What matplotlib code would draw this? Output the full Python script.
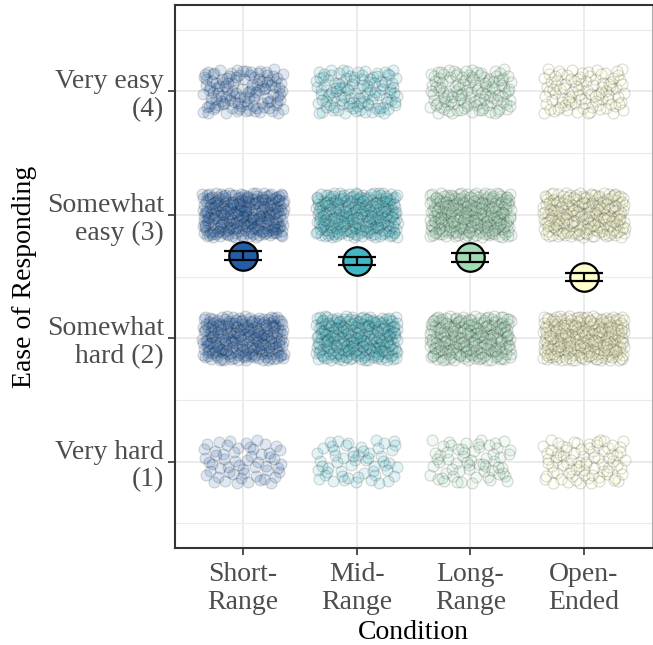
import numpy as np
import matplotlib
matplotlib.use("Agg")
import matplotlib.pyplot as plt
from matplotlib.ticker import FixedLocator

plt.rcParams['font.family'] = ['Liberation Serif', 'DejaVu Serif']

# data: number of responses per level (1..4) in each condition
conditions = ["Short-\nRange", "Mid-\nRange", "Long-\nRange", "Open-\nEnded"]
levels = [1, 2, 3, 4]
level_labels = ["Very hard\n(1)", "Somewhat\nhard (2)", "Somewhat\neasy (3)", "Very easy\n(4)"]
counts_short = [55, 230, 260, 120]
counts_mid = [55, 250, 250, 110]
counts_long = [60, 230, 255, 120]
counts_open = [80, 280, 230, 95]
colors = ["#225ea8", "#41b6c4", "#a1dab4", "#ffffcc"]

all_counts = [counts_short, counts_mid, counts_long, counts_open]


def halton(n, base, start):
    out = np.zeros(n)
    for k in range(n):
        i = k + start
        f, r = 1.0, 0.0
        while i > 0:
            f /= base
            r += f * (i % base)
            i //= base
        out[k] = r
    return out


fig = plt.figure(figsize=(6.53, 6.45), dpi=100)
ax = fig.add_axes([175 / 653, 1 - 548 / 645, 477 / 653, 543 / 645])

jit_w, jit_h = 0.36, 0.18
start = 1
for ci, counts in enumerate(all_counts):
    for lv, n in zip(levels, counts):
        jx = (halton(n, 2, start) * 2 - 1) * jit_w
        jy = (halton(n, 3, start) * 2 - 1) * jit_h
        start += n
        ax.scatter(ci + 1 + jx, lv + jy, s=62, facecolor=colors[ci],
                   edgecolor="black", linewidth=0.8, alpha=0.15, zorder=2)

# means and standard errors
for ci, counts in enumerate(all_counts):
    vals = np.repeat(levels, counts)
    m = vals.mean()
    se = vals.std(ddof=1) / np.sqrt(len(vals))
    ax.plot(ci + 1, m, 'o', ms=20.5, mfc=colors[ci], mec="black", mew=1.6, zorder=4)
    ax.errorbar(ci + 1, m, yerr=se, fmt='none', ecolor="black", elinewidth=1.6,
                capsize=13.5, capthick=1.6, zorder=5)

ax.set_xlim(0.4, 4.6)
ax.set_ylim(0.3, 4.7)
ax.set_xticks([1, 2, 3, 4])
ax.set_xticklabels(conditions, fontsize=20, color="#4d4d4d", linespacing=1.15)
ax.set_yticks(levels)
ax.set_yticklabels(level_labels, fontsize=20, color="#4d4d4d", linespacing=1.15,
                   ha="right", multialignment="right")
ax.yaxis.set_minor_locator(FixedLocator([0.5, 1.5, 2.5, 3.5, 4.5]))
ax.tick_params(axis="y", which="minor", length=0)
ax.tick_params(axis="both", which="major", length=5, width=1.2, color="#333333", pad=3)
ax.tick_params(axis="x", which="major", pad=5)

ax.grid(True, which="major", color="#ebebeb", linewidth=1.4, zorder=0)
ax.grid(True, which="minor", axis="y", color="#ebebeb", linewidth=0.8, zorder=0)
ax.set_axisbelow(True)

for side in ["left", "bottom", "top"]:
    ax.spines[side].set_color("#333333")
    ax.spines[side].set_linewidth(1.5)
ax.spines["right"].set_color("#aaaaaa")
ax.spines["right"].set_linewidth(0.8)

ax.set_xlabel("Condition", fontsize=20, labelpad=4)
ax.set_ylabel("Ease of Responding", fontsize=20, labelpad=7)

fig.savefig("out.png", dpi=100)
